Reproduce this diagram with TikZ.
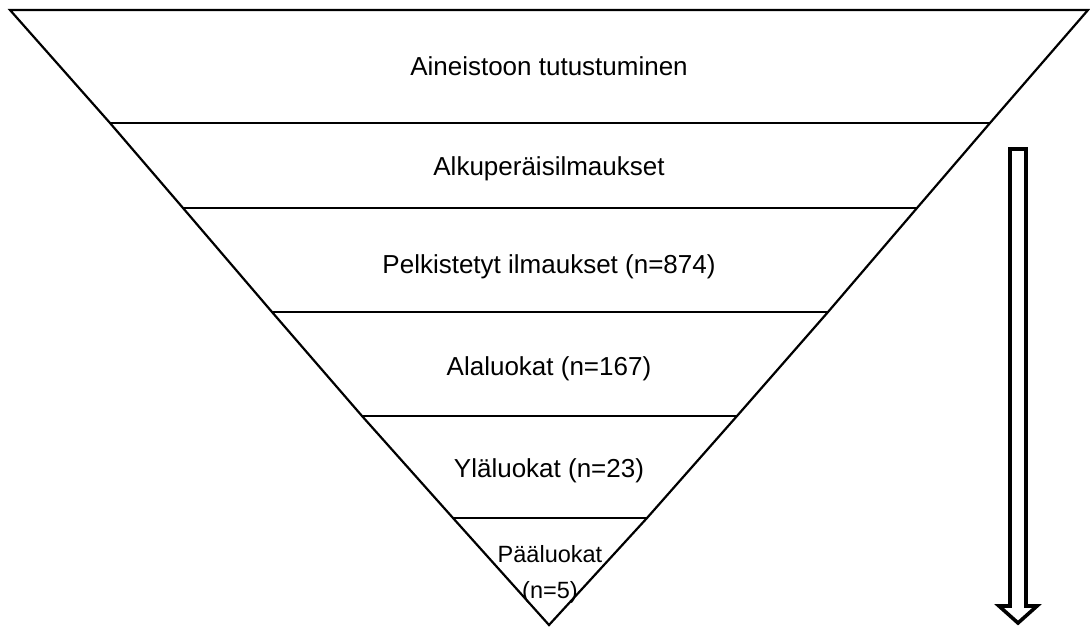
\documentclass[tikz,border=0pt]{standalone}
\usepackage{fontspec}
\setmainfont{Liberation Sans}
\usetikzlibrary{calc}
\begin{document}
\begin{tikzpicture}[x=1pt,y=-1pt,
  band/.style={line width=2.2pt,line join=miter},
  lbl/.style={font=\fontsize{26}{31}\selectfont,inner sep=0pt,anchor=base},
  blockarrow/.style={line width=3.6pt,line join=miter,fill=white}]
\useasboundingbox (0,0) rectangle (1090,628);
% outline of the inverted triangle
\coordinate (L0) at (10,10);   \coordinate (R0) at (1088,10);
\coordinate (L1) at (110,123); \coordinate (R1) at (990,123);
\coordinate (L2) at (183,208); \coordinate (R2) at (917,208);
\coordinate (L3) at (272,312); \coordinate (R3) at (828,312);
\coordinate (L4) at (362,416); \coordinate (R4) at (737,416);
\coordinate (L5) at (453,518); \coordinate (R5) at (647,518);
\coordinate (apex) at (549,625);
\draw[band] (L0) -- (R0) -- (R1) -- (R2) -- (R3) -- (R4) -- (R5) -- (apex)
  -- (L5) -- (L4) -- (L3) -- (L2) -- (L1) -- cycle;
\foreach \i in {1,...,5} \draw[band] (L\i) -- (R\i);
% labels
\node[lbl] (t0) at (549,76) {Aineistoon tutustuminen};
\node[lbl] (t1) at (549,176) {Alkuperäisilmaukset};
\node[lbl] (t2) at (549,274) {Pelkistetyt ilmaukset (n=874)};
\node[lbl] (t3) at (549,375) {Alaluokat (n=167)};
\node[lbl] (t4) at (549,477) {Yläluokat (n=23)};
\node[font=\fontsize{23.5}{36}\selectfont,inner sep=0pt,align=center,anchor=base]
  (t5) at (550,598) {Pääluokat\\(n=5)};
% hollow block arrow
\coordinate (arrtop) at (1018,149);
\coordinate (arrtip) at (1018,623);
\draw[blockarrow] ($(arrtop)+(-8,0)$) -- ($(arrtop)+(8,0)$) -- (1026,606) -- (1037,606)
  -- (arrtip) -- (999,606) -- (1010,606) -- cycle;
\end{tikzpicture}
\end{document}
